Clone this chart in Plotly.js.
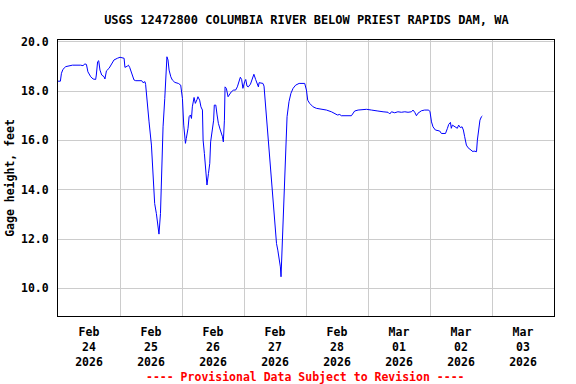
<!DOCTYPE html>
<html>
<head>
<meta charset="utf-8">
<script src="https://cdn.plot.ly/plotly-3.0.1.min.js"></script>
<style>html,body{margin:0;padding:0;background:#fff;}#chart{width:576px;height:384px;}</style>
</head>
<body>
<div id="chart"></div>
<script>
var times = [
"2026-02-24 00:00","2026-02-24 00:55","2026-02-24 01:20","2026-02-24 01:55","2026-02-24 03:00","2026-02-24 04:15","2026-02-24 05:35","2026-02-24 08:45","2026-02-24 09:40","2026-02-24 10:25","2026-02-24 11:00","2026-02-24 11:35","2026-02-24 12:40","2026-02-24 13:35","2026-02-24 14:35","2026-02-24 14:50","2026-02-24 15:20","2026-02-24 15:45","2026-02-24 16:15","2026-02-24 16:55","2026-02-24 17:50","2026-02-24 18:10","2026-02-24 18:45","2026-02-24 19:45","2026-02-24 20:25","2026-02-24 21:40","2026-02-24 23:00",
"2026-02-25 00:00","2026-02-25 01:35","2026-02-25 01:55","2026-02-25 02:50","2026-02-25 03:15","2026-02-25 03:45","2026-02-25 04:30","2026-02-25 05:25","2026-02-25 06:05","2026-02-25 08:25","2026-02-25 08:55","2026-02-25 09:40","2026-02-25 09:55","2026-02-25 10:35","2026-02-25 11:15","2026-02-25 12:10","2026-02-25 12:45","2026-02-25 13:25","2026-02-25 14:05","2026-02-25 14:40","2026-02-25 15:05","2026-02-25 15:40","2026-02-25 16:10","2026-02-25 16:40","2026-02-25 17:20","2026-02-25 17:40","2026-02-25 18:10","2026-02-25 18:35","2026-02-25 19:00","2026-02-25 19:40","2026-02-25 20:15","2026-02-25 21:15","2026-02-25 22:35","2026-02-25 23:30",
"2026-02-26 00:10","2026-02-26 00:40","2026-02-26 01:05","2026-02-26 01:20","2026-02-26 01:40","2026-02-26 02:20","2026-02-26 02:45","2026-02-26 03:15","2026-02-26 03:40","2026-02-26 04:00","2026-02-26 04:40","2026-02-26 05:10","2026-02-26 05:50","2026-02-26 06:10","2026-02-26 06:50","2026-02-26 07:20","2026-02-26 07:55","2026-02-26 08:10","2026-02-26 08:40","2026-02-26 09:10","2026-02-26 09:40","2026-02-26 10:15","2026-02-26 10:45","2026-02-26 11:05","2026-02-26 11:45","2026-02-26 12:15","2026-02-26 12:30","2026-02-26 13:05","2026-02-26 13:35","2026-02-26 14:05","2026-02-26 14:50","2026-02-26 15:40","2026-02-26 16:00","2026-02-26 16:25","2026-02-26 16:40","2026-02-26 17:10","2026-02-26 17:50","2026-02-26 18:30","2026-02-26 19:05","2026-02-26 20:00","2026-02-26 20:45","2026-02-26 21:25","2026-02-26 22:05","2026-02-26 22:35","2026-02-26 23:05","2026-02-26 23:35",
"2026-02-27 00:15","2026-02-27 00:40","2026-02-27 01:10","2026-02-27 01:40","2026-02-27 02:30","2026-02-27 03:15","2026-02-27 03:50","2026-02-27 04:30","2026-02-27 05:00","2026-02-27 05:35","2026-02-27 05:50","2026-02-27 06:45","2026-02-27 07:20","2026-02-27 07:45","2026-02-27 08:10","2026-02-27 08:40","2026-02-27 09:20","2026-02-27 10:05","2026-02-27 11:00","2026-02-27 11:45","2026-02-27 12:35","2026-02-27 13:05","2026-02-27 13:35","2026-02-27 14:05","2026-02-27 14:20","2026-02-27 14:45","2026-02-27 15:05","2026-02-27 15:40","2026-02-27 16:10","2026-02-27 16:40","2026-02-27 17:25","2026-02-27 18:10","2026-02-27 19:00","2026-02-27 20:00","2026-02-27 21:20","2026-02-27 23:30",
"2026-02-28 00:10","2026-02-28 00:40","2026-02-28 01:25","2026-02-28 02:45","2026-02-28 04:00","2026-02-28 06:00","2026-02-28 07:55","2026-02-28 09:50","2026-02-28 11:05","2026-02-28 12:10","2026-02-28 13:05","2026-02-28 13:40","2026-02-28 17:35","2026-02-28 18:10","2026-02-28 18:50","2026-02-28 20:10","2026-02-28 23:25",
"2026-03-01 01:20","2026-03-01 02:35","2026-03-01 03:50","2026-03-01 05:50","2026-03-01 07:45","2026-03-01 08:25","2026-03-01 09:05","2026-03-01 10:20","2026-03-01 11:35","2026-03-01 12:55","2026-03-01 14:15","2026-03-01 15:30","2026-03-01 16:50","2026-03-01 17:25","2026-03-01 18:05","2026-03-01 18:45","2026-03-01 19:20","2026-03-01 20:40","2026-03-01 21:55","2026-03-01 23:30",
"2026-03-02 00:00","2026-03-02 00:35","2026-03-02 01:10","2026-03-02 02:05","2026-03-02 03:45","2026-03-02 04:25","2026-03-02 06:00","2026-03-02 06:45","2026-03-02 07:15","2026-03-02 07:55","2026-03-02 08:15","2026-03-02 08:40","2026-03-02 09:35","2026-03-02 10:35","2026-03-02 11:05","2026-03-02 11:45","2026-03-02 12:25","2026-03-02 12:55","2026-03-02 13:25","2026-03-02 14:05","2026-03-02 14:45","2026-03-02 15:45","2026-03-02 16:40","2026-03-02 17:00","2026-03-02 18:00","2026-03-02 18:20","2026-03-02 18:50","2026-03-02 19:20","2026-03-02 19:55","2026-03-02 20:15"
];
var gageHeight = [
18.40,18.40,18.72,18.88,18.99,19.03,19.05,19.05,19.03,19.10,19.08,18.78,18.58,18.49,18.47,18.65,19.19,19.23,18.85,18.65,18.58,18.49,18.82,18.92,19.05,19.26,19.33,
19.37,19.33,18.96,19.01,19.05,18.96,18.72,18.45,18.42,18.42,18.34,18.38,18.27,17.63,16.75,15.81,14.66,13.44,13.03,12.63,12.20,13.03,14.93,16.55,17.70,18.45,19.39,19.26,18.85,18.58,18.45,18.35,18.31,18.24,
17.70,16.62,16.15,15.88,16.08,16.49,16.96,17.03,16.89,17.36,17.74,17.50,17.66,17.77,17.63,17.36,17.23,16.01,15.47,14.66,14.19,14.66,15.07,15.94,16.42,16.82,17.43,17.43,17.03,16.69,16.42,16.15,15.94,16.82,18.17,18.11,17.77,17.91,17.97,18.04,18.04,18.17,18.45,18.56,18.47,18.11,
18.38,18.47,18.20,18.17,18.28,18.47,18.68,18.47,18.31,18.17,18.34,18.31,18.31,18.20,17.63,17.13,16.10,15.40,13.98,13.03,11.82,11.55,11.28,10.87,10.47,11.55,12.64,14.26,15.74,16.96,17.57,17.91,18.11,18.24,18.31,18.31,
18.04,17.63,17.50,17.36,17.30,17.26,17.23,17.16,17.10,17.03,17.05,17.00,17.00,17.10,17.19,17.23,17.26,
17.23,17.20,17.19,17.16,17.14,17.07,17.16,17.12,17.16,17.14,17.16,17.14,17.16,17.23,17.14,17.00,17.10,17.20,17.23,17.23,
17.16,16.75,16.55,16.42,16.38,16.28,16.28,16.49,16.65,16.73,16.49,16.62,16.55,16.49,16.62,16.52,16.55,16.42,16.15,15.81,15.70,15.63,15.54,15.57,15.54,16.01,16.49,16.82,16.96,16.99
];
var xTickVals = ["2026-02-24 12:00","2026-02-25 12:00","2026-02-26 12:00","2026-02-27 12:00","2026-02-28 12:00","2026-03-01 12:00","2026-03-02 12:00","2026-03-03 12:00"];
var xTickText = ["Feb<br>24<br>2026","Feb<br>25<br>2026","Feb<br>26<br>2026","Feb<br>27<br>2026","Feb<br>28<br>2026","Mar<br>01<br>2026","Mar<br>02<br>2026","Mar<br>03<br>2026"];
var yTickVals = [10,12,14,16,18,20];
var titleText = "USGS 12472800 COLUMBIA RIVER BELOW PRIEST RAPIDS DAM, WA";
var yTitle = "Gage height, feet";
var footer = "---- Provisional Data Subject to Revision ----";

var fnt = "DejaVu Sans Mono, monospace";
var trace = {
  x: times, y: gageHeight, type: "scatter", mode: "lines",
  line: {color: "#0000ff", width: 1}, hoverinfo: "skip"
};
var layout = {
  width: 576, height: 384,
  margin: {l: 58, r: 22, t: 40, b: 68},
  paper_bgcolor: "#ffffff", plot_bgcolor: "#ffffff",
  showlegend: false,
  font: {family: fnt, size: 11.5, color: "#000", weight: "bold"},
  title: {text: titleText, x: 0.532, xanchor: "center", y: 0.948, yanchor: "middle",
          font: {family: fnt, size: 12, color: "#000", weight: "bold"}},
  xaxis: {
    type: "date", range: ["2026-02-24 00:00", "2026-03-04 00:00"],
    tickmode: "array", tickvals: xTickVals, ticktext: xTickText,
    showgrid: false, ticks: "", zeroline: false,
    showline: true, mirror: true, linecolor: "#000", linewidth: 1,
    tickfont: {family: fnt, size: 11.5, color: "#000", weight: "bold"},
    ticklabelstandoff: 5,
    minor: {tickmode: "linear", tick0: "2026-02-24 00:00", dtick: 86400000,
            showgrid: true, gridcolor: "#cccccc", gridwidth: 1, ticks: ""}
  },
  yaxis: {
    range: [8.88, 20.07], tickmode: "array", tickvals: yTickVals, tickformat: ".1f",
    showgrid: true, gridcolor: "#cccccc", gridwidth: 1, zeroline: false,
    ticks: "", ticklabelstandoff: 6,
    showline: true, mirror: true, linecolor: "#000", linewidth: 1,
    tickfont: {family: fnt, size: 11.5, color: "#000", weight: "bold"},
    title: {text: yTitle, standoff: 3, font: {family: fnt, size: 11.5, color: "#000", weight: "bold"}}
  },
  annotations: [{
    text: footer, xref: "paper", yref: "paper", x: 0.498, y: -0.222,
    xanchor: "center", yanchor: "middle", showarrow: false,
    font: {family: fnt, size: 11.5, color: "#ff0000", weight: "bold"}
  }]
};
Plotly.newPlot("chart", [trace], layout, {staticPlot: true, displayModeBar: false});
</script>
</body>
</html>
